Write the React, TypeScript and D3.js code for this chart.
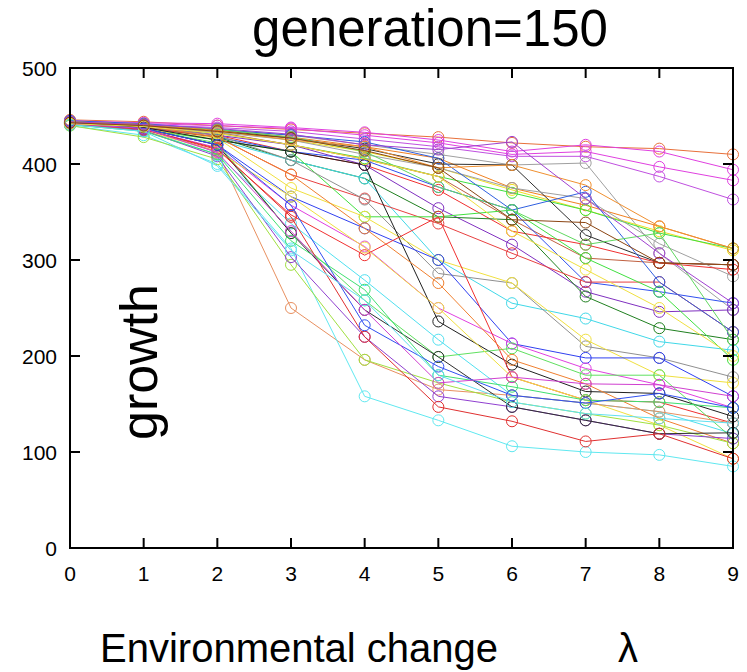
import React from "react";
import * as d3 from "d3";

// Environmental change levels on the x axis
const lambdas = [0, 1, 2, 3, 4, 5, 6, 7, 8, 9];
const xTicks = [0, 1, 2, 3, 4, 5, 6, 7, 8, 9];
const yTicks = [0, 100, 200, 300, 400, 500];

// Growth of each population after 150 generations, one row per run
const runs: number[][] = [
  [446, 444, 440, 436, 432, 428, 422, 418, 416, 410],
  [445, 443, 442, 438, 433, 425, 413, 420, 413, 394],
  [445, 442, 440, 437, 430, 422, 410, 413, 397, 383],
  [444, 441, 438, 434, 426, 418, 408, 408, 387, 363],
  [444, 441, 436, 430, 420, 410, 399, 401, 307, 248],
  [444, 441, 436, 428, 418, 406, 375, 357, 335, 312],
  [443, 440, 434, 425, 413, 396, 373, 352, 330, 310],
  [442, 439, 432, 420, 406, 387, 370, 352, 328, 312],
  [444, 441, 435, 427, 416, 400, 399, 326, 297, 295],
  [443, 440, 433, 420, 405, 387, 342, 302, 297, 295],
  [444, 440, 433, 425, 410, 396, 375, 364, 317, 283],
  [443, 440, 430, 413, 399, 373, 330, 316, 297, 290],
  [443, 438, 428, 413, 404, 376, 352, 277, 267, 255],
  [443, 439, 430, 420, 399, 354, 316, 267, 246, 248],
  [442, 438, 428, 404, 385, 345, 342, 262, 229, 217],
  [442, 437, 425, 404, 385, 300, 255, 239, 215, 206],
  [443, 438, 428, 389, 364, 338, 307, 277, 277, 225],
  [442, 436, 425, 413, 345, 345, 352, 302, 267, 196],
  [443, 439, 430, 404, 363, 286, 276, 210, 198, 178],
  [441, 436, 427, 375, 345, 300, 276, 217, 180, 172],
  [443, 437, 420, 366, 333, 300, 213, 198, 198, 158],
  [442, 436, 417, 357, 314, 250, 213, 187, 170, 146],
  [443, 438, 425, 413, 399, 236, 191, 163, 161, 137],
  [442, 436, 415, 347, 305, 345, 178, 154, 152, 130],
  [441, 435, 410, 338, 279, 217, 159, 151, 142, 119],
  [441, 436, 422, 328, 258, 199, 208, 180, 180, 114],
  [443, 440, 428, 389, 333, 276, 196, 171, 135, 109],
  [441, 435, 413, 366, 313, 250, 178, 154, 128, 93],
  [442, 437, 413, 250, 196, 165, 159, 151, 142, 130],
  [440, 430, 400, 312, 158, 133, 106, 100, 97, 85],
  [440, 428, 405, 295, 196, 172, 152, 140, 128, 109],
  [441, 435, 408, 303, 220, 158, 147, 133, 119, 114],
  [443, 437, 420, 328, 248, 199, 147, 133, 119, 120],
  [442, 436, 416, 345, 220, 147, 132, 111, 119, 93],
  [441, 434, 410, 320, 269, 180, 168, 154, 152, 146],
  [443, 437, 420, 357, 232, 189, 159, 151, 161, 146],
  [442, 437, 412, 330, 248, 172, 178, 171, 170, 158],
  [441, 434, 398, 310, 258, 180, 152, 140, 135, 130],
  [445, 442, 436, 430, 423, 406, 352, 371, 277, 225],
  [444, 441, 436, 428, 413, 376, 352, 316, 328, 217],
  [444, 441, 435, 425, 418, 396, 399, 378, 335, 312],
  [444, 441, 437, 431, 420, 415, 423, 364, 307, 255],
  [442, 439, 432, 420, 405, 387, 330, 290, 250, 200],
  [443, 440, 434, 427, 414, 396, 342, 339, 297, 295],
];

// Line colour of each run
const runColors = [
  "#e8703a", "#e040e0", "#e040e0", "#c050e0", "#a0a0a0",
  "#f08020", "#f0e020", "#40e040", "#303030", "#c06040",
  "#a0a0a0", "#f03030", "#3050f0", "#8030c0", "#208020",
  "#40d8e8", "#e84040", "#40e040", "#909090", "#f0e040",
  "#3040f0", "#e040e0", "#202020", "#f03030", "#50e0f0",
  "#60e060", "#f08030", "#f0e040", "#e89060", "#60e8f0",
  "#a0e040", "#9040d0", "#303030", "#e03030", "#40e070",
  "#3050f0", "#d040d0", "#60e0f0", "#3060e0", "#60d860",
  "#f09030", "#a040d0", "#f0e040", "#8b4513",
];

const W = 747;
const H = 672;
const left = 70;
const right = 733;
const top = 68;
const bottom = 548;

export default function App() {
  const x = d3.scaleLinear().domain([0, 9]).range([left, right]);
  const y = d3.scaleLinear().domain([0, 500]).range([bottom, top]);
  const line = d3
    .line<number>()
    .x((_, i) => x(lambdas[i]))
    .y((d) => y(d));
  const font = "'Liberation Sans', Arial, sans-serif";
  const tick = 10;

  return (
    <svg
      width={W}
      height={H}
      style={{ position: "absolute", left: 0, top: 0, background: "#fff" }}
      fontFamily={font}
    >
      <rect x={0} y={0} width={W} height={H} fill="#fff" />
      <text x={430} y={46} textAnchor="middle" fontSize={51}>
        generation=150
      </text>

      {runs.map((r, k) => (
        <g key={k} stroke={runColors[k % runColors.length]} fill="none" strokeWidth={1}>
          <path d={line(r) ?? ""} />
          {r.map((v, i) => (
            <circle key={i} cx={x(lambdas[i])} cy={y(v)} r={5.5} />
          ))}
        </g>
      ))}

      <g stroke="#000" strokeWidth={2} fill="none">
        <rect x={left} y={top} width={right - left} height={bottom - top} />
        {xTicks.map((t) => (
          <g key={"x" + t}>
            <line x1={x(t)} x2={x(t)} y1={bottom} y2={bottom - tick} />
            <line x1={x(t)} x2={x(t)} y1={top} y2={top + tick} />
          </g>
        ))}
        {yTicks.map((t) => (
          <g key={"y" + t}>
            <line x1={left} x2={left + tick} y1={y(t)} y2={y(t)} />
            <line x1={right} x2={right - tick} y1={y(t)} y2={y(t)} />
          </g>
        ))}
      </g>

      {yTicks.map((t) => (
        <text key={"yl" + t} x={57} y={y(t)} dy="0.36em" textAnchor="end" fontSize={21}>
          {t}
        </text>
      ))}
      {xTicks.map((t) => (
        <text key={"xl" + t} x={x(t)} y={573} dy="0.36em" textAnchor="middle" fontSize={21}>
          {t}
        </text>
      ))}

      <text
        transform={`translate(157,${362}) rotate(-90)`}
        textAnchor="middle"
        fontSize={52}
      >
        growth
      </text>
      <text x={100} y={662} fontSize={40}>
        Environmental change
      </text>
      <text x={628} y={662} textAnchor="middle" fontSize={40}>
        λ
      </text>
    </svg>
  );
}
